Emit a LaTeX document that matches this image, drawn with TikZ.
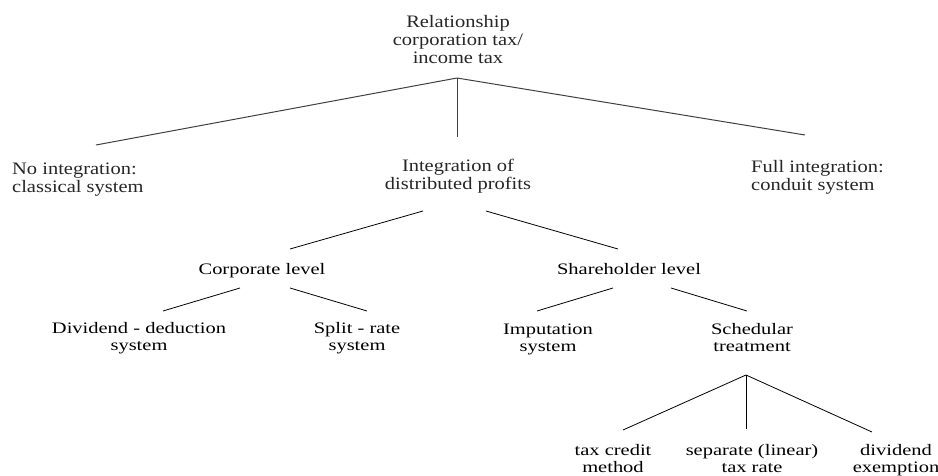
\documentclass[tikz,border=0pt]{standalone}
\usepackage{fontspec}
\setmainfont{Liberation Serif}
\newfontfamily\topfont[FakeStretch=1.17]{Liberation Serif}
\newfontfamily\lowfont[FakeStretch=1.28]{Liberation Serif}
\begin{document}
\begin{tikzpicture}[x=1pt,y=-1pt,
  toptext/.style={font={\topfont\fontsize{17.5}{18}\selectfont}, inner sep=0pt, text=black!85},
  lowtext/.style={font={\lowfont\fontsize{16}{17}\selectfont}, inner sep=0pt},
  topline/.style={draw=black!75, line width=1pt},
  lowline/.style={draw=black, line width=0.8pt}]
\useasboundingbox (0,0) rectangle (938,476);
% texts (anchor base = baseline of the last line)
\node[toptext, align=center, anchor=base] (root) at (458,64) {Relationship\\corporation tax/\\income tax};
\node[toptext, align=left, anchor=base west] (noint) at (12,193) {No integration:\\classical system};
\node[toptext, align=center, anchor=base] (distr) at (458,190) {Integration of\\distributed profits};
\node[toptext, align=left, anchor=base west] (full) at (751,191) {Full integration:\\conduit system};
\node[lowtext, anchor=base] (corp) at (262,274) {Corporate level};
\node[lowtext, anchor=base] (share) at (629,274) {Shareholder level};
\node[lowtext, align=center, anchor=base] (divded) at (139,350) {Dividend - deduction\\system};
\node[lowtext, align=center, anchor=base] (split) at (357,350) {Split - rate\\system};
\node[lowtext, align=center, anchor=base] (imput) at (548,351) {Imputation\\system};
\node[lowtext, align=center, anchor=base] (sched) at (752,351) {Schedular\\treatment};
\node[lowtext, align=center, anchor=base] (credit) at (613,472) {tax credit\\method};
\node[lowtext, align=center, anchor=base] (separ) at (752,472) {separate (linear)\\tax rate};
\node[lowtext, align=center, anchor=base] (exempt) at (896,472) {dividend\\exemption};
% connector end points
\coordinate (j1) at (457,78);
\coordinate (j1a) at (96,145);
\coordinate (j1b) at (457,137);
\coordinate (j1c) at (805,135);
\coordinate (d1) at (423,211);
\coordinate (d1e) at (290,249);
\coordinate (d2) at (486,211);
\coordinate (d2e) at (618,249);
\coordinate (c1) at (240,288);
\coordinate (c1e) at (163,311);
\coordinate (c2) at (290,288);
\coordinate (c2e) at (367,311);
\coordinate (s1) at (613,288);
\coordinate (s1e) at (537,311);
\coordinate (s2) at (671,288);
\coordinate (s2e) at (747,311);
\coordinate (j2) at (746,375);
\coordinate (j2a) at (623,430);
\coordinate (j2b) at (746,429);
\coordinate (j2c) at (872,432);
% connectors
\draw[topline] (j1) -- (j1a);
\draw[topline] (j1) -- (j1b);
\draw[topline] (j1) -- (j1c);
\draw[lowline] (d1) -- (d1e);
\draw[lowline] (d2) -- (d2e);
\draw[lowline] (c1) -- (c1e);
\draw[lowline] (c2) -- (c2e);
\draw[lowline] (s1) -- (s1e);
\draw[lowline] (s2) -- (s2e);
\draw[lowline] (j2) -- (j2a);
\draw[lowline] (j2) -- (j2b);
\draw[lowline] (j2) -- (j2c);
\end{tikzpicture}
\end{document}
